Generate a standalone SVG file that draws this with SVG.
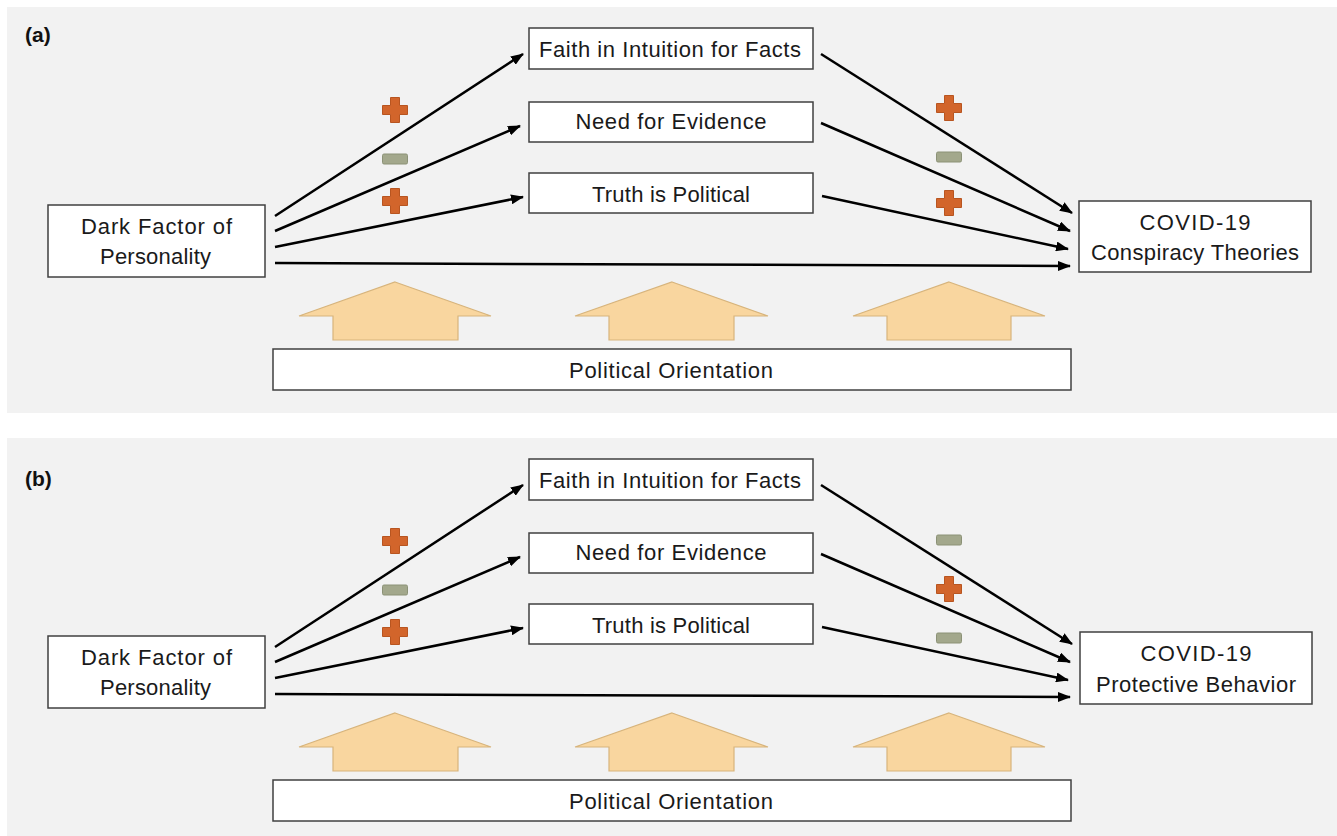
<svg xmlns="http://www.w3.org/2000/svg" width="1337" height="836" viewBox="0 0 1337 836">
<style>
.panel{fill:#f2f2f2}
.box{fill:#ffffff;stroke:#404040;stroke-width:1.5}
.t{font-family:"Liberation Sans",Arial,sans-serif;font-size:22px;fill:#1a1a1a;text-anchor:middle}
.lbl{font-family:"Liberation Sans",Arial,sans-serif;font-size:21px;font-weight:bold;fill:#111}
.c{stroke:#000;stroke-width:2.5;fill:none;marker-end:url(#ah)}
.house{fill:#f9d69f;stroke:#d7b47c;stroke-width:1.2}
.plus{fill:#d2652b;stroke:#b85520;stroke-width:1}
.minus{fill:#a3a88c;stroke:#8c9277;stroke-width:1}
</style>
<defs>
<marker id="ah" markerUnits="userSpaceOnUse" markerWidth="13" markerHeight="10" viewBox="0 0 13 10" refX="12" refY="5" orient="auto">
<path d="M0,0 L13,5 L0,10 z" fill="#000"/>
</marker>
<path id="plusShape" class="plus" d="M-4.5,-12.5 H4.5 V-4.5 H12.5 V4.5 H4.5 V12.5 H-4.5 V4.5 H-12.5 V-4.5 H-4.5 Z"/>
<rect id="minusShape" class="minus" x="-12.5" y="-5" width="25" height="10" rx="1.5"/>
</defs>

<rect class="panel" x="7" y="7" width="1330" height="406"/>
<rect class="panel" x="7" y="438" width="1330" height="398"/>

<!-- Panel (a) -->
<g id="panel-a">
<text class="lbl" x="25" y="42">(a)</text>
<g id="a-houses">
<polygon class="house" points="395,282 491,316 458,316 458,340 333,340 333,316 299,316"/>
<polygon class="house" points="672,282 768,316 734,316 734,340 609,340 609,316 575,316"/>
<polygon class="house" points="949,282 1045,316 1011,316 1011,340 887,340 887,316 853,316"/>
</g>
<g id="a-connectors">
<line class="c" x1="275" y1="216" x2="523" y2="54"/>
<line class="c" x1="275" y1="231" x2="520" y2="126"/>
<line class="c" x1="275" y1="247" x2="523" y2="197"/>
<line class="c" x1="275" y1="263" x2="1070" y2="266"/>
<line class="c" x1="821" y1="54" x2="1072" y2="213"/>
<line class="c" x1="821" y1="123" x2="1070" y2="231"/>
<line class="c" x1="822" y1="196" x2="1068" y2="249"/>
</g>
<g id="a-signs">
<use href="#plusShape" x="395" y="110"/>
<use href="#minusShape" x="395" y="159"/>
<use href="#plusShape" x="395" y="201"/>
<use href="#plusShape" x="949" y="108"/>
<use href="#minusShape" x="949" y="157"/>
<use href="#plusShape" x="949" y="203"/>
</g>
<g id="a-dark">
<rect class="box" x="48" y="205" width="217" height="72"/>
<text class="t" x="156.5" y="234" textLength="151">Dark Factor of</text>
<text class="t" x="155.5" y="264" textLength="111">Personality</text>
</g>
<g id="a-faith">
<rect class="box" x="529" y="28" width="284" height="41"/>
<text class="t" x="670" y="57" textLength="262">Faith in Intuition for Facts</text>
</g>
<g id="a-need">
<rect class="box" x="529" y="102" width="284" height="40"/>
<text class="t" x="671" y="129" textLength="191">Need for Evidence</text>
</g>
<g id="a-truth">
<rect class="box" x="529" y="173" width="284" height="40"/>
<text class="t" x="671" y="202" textLength="158">Truth is Political</text>
</g>
<g id="a-outcome">
<rect class="box" x="1079" y="201" width="232" height="71"/>
<text class="t" x="1195" y="230" textLength="111">COVID-19</text>
<text class="t" x="1195" y="260" textLength="208">Conspiracy Theories</text>
</g>
<g id="a-political">
<rect class="box" x="273" y="349" width="798" height="41"/>
<text class="t" x="671" y="378" textLength="204">Political Orientation</text>
</g>
</g>

<!-- Panel (b) -->
<g id="panel-b">
<text class="lbl" x="25" y="486">(b)</text>
<g id="b-houses">
<polygon class="house" points="395,713 491,747 458,747 458,771 333,771 333,747 299,747"/>
<polygon class="house" points="672,713 768,747 734,747 734,771 609,771 609,747 575,747"/>
<polygon class="house" points="949,713 1045,747 1011,747 1011,771 887,771 887,747 853,747"/>
</g>
<g id="b-connectors">
<line class="c" x1="275" y1="647" x2="523" y2="485"/>
<line class="c" x1="275" y1="662" x2="520" y2="557"/>
<line class="c" x1="275" y1="678" x2="523" y2="628"/>
<line class="c" x1="275" y1="694" x2="1070" y2="697"/>
<line class="c" x1="821" y1="485" x2="1072" y2="644"/>
<line class="c" x1="821" y1="554" x2="1070" y2="662"/>
<line class="c" x1="822" y1="627" x2="1068" y2="680"/>
</g>
<g id="b-signs">
<use href="#plusShape" x="395" y="541"/>
<use href="#minusShape" x="395" y="590"/>
<use href="#plusShape" x="395" y="632"/>
<use href="#minusShape" x="949" y="540"/>
<use href="#plusShape" x="949" y="589"/>
<use href="#minusShape" x="949" y="638"/>
</g>
<g id="b-dark">
<rect class="box" x="48" y="636" width="217" height="72"/>
<text class="t" x="156.5" y="665" textLength="151">Dark Factor of</text>
<text class="t" x="155.5" y="695" textLength="111">Personality</text>
</g>
<g id="b-faith">
<rect class="box" x="529" y="459" width="284" height="41"/>
<text class="t" x="670" y="488" textLength="262">Faith in Intuition for Facts</text>
</g>
<g id="b-need">
<rect class="box" x="529" y="533" width="284" height="40"/>
<text class="t" x="671" y="560" textLength="191">Need for Evidence</text>
</g>
<g id="b-truth">
<rect class="box" x="529" y="604" width="284" height="40"/>
<text class="t" x="671" y="633" textLength="158">Truth is Political</text>
</g>
<g id="b-outcome">
<rect class="box" x="1080" y="632" width="232" height="72"/>
<text class="t" x="1196" y="661" textLength="111">COVID-19</text>
<text class="t" x="1196" y="692" textLength="200">Protective Behavior</text>
</g>
<g id="b-political">
<rect class="box" x="273" y="780" width="798" height="41"/>
<text class="t" x="671" y="809" textLength="204">Political Orientation</text>
</g>
</g>
</svg>
